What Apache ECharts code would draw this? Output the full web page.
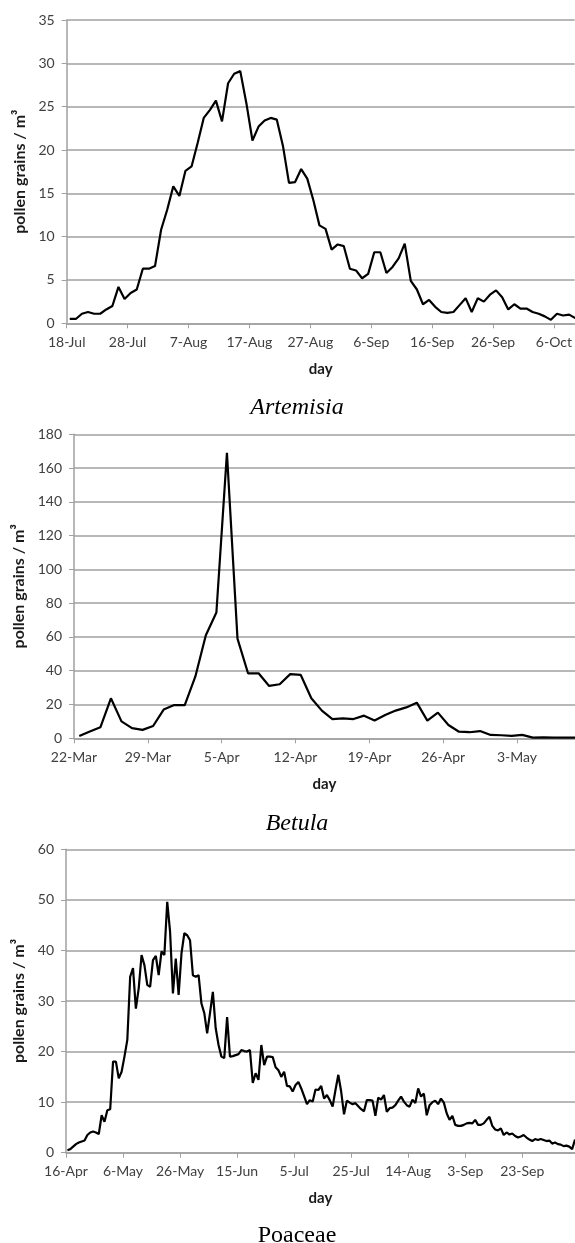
<!DOCTYPE html>
<html>
<head>
<meta charset="utf-8">
<script src="https://cdn.jsdelivr.net/npm/echarts@6/dist/echarts.min.js"></script>
<style>
  html, body { margin: 0; padding: 0; background: #ffffff; }
  #chart { width: 575px; height: 1243px; }
</style>
</head>
<body>
<div id="chart"></div>
<script>
// daily pollen counts, one value per day starting at the first tick date
const ARTEMISIA_START = [7, 18]; // 18-Jul
const ARTEMISIA_VALUES = [
  0.5, 0.5, 1.1, 1.3, 1.1, 1.1, 1.6, 2.0, 4.2, 2.8,
  3.5, 3.9, 6.3, 6.3, 6.6, 10.8, 13.1, 15.8, 14.7, 17.6,
  18.1, 20.8, 23.7, 24.6, 25.7, 23.3, 27.7, 28.8, 29.1, 25.4,
  21.1, 22.7, 23.4, 23.7, 23.5, 20.5, 16.2, 16.3, 17.8, 16.7,
  14.2, 11.3, 10.9, 8.5, 9.1, 8.9, 6.3, 6.1, 5.2, 5.7,
  8.2, 8.2, 5.8, 6.5, 7.5, 9.2, 4.9, 3.9, 2.2, 2.7,
  1.9, 1.3, 1.2, 1.3, 2.1, 2.9, 1.3, 2.9, 2.5, 3.3,
  3.8, 3.0, 1.6, 2.2, 1.7, 1.7, 1.3, 1.1, 0.8, 0.4,
  1.1, 0.9, 1.0, 0.6
];

const BETULA_START = [3, 22]; // 22-Mar
const BETULA_VALUES = [
  1.4, 4, 6.5, 23.7, 10, 6, 5, 7.3, 17, 19.7,
  19.7, 36.5, 61, 74.5, 169, 59, 38.5, 38.5, 31, 32,
  38, 37.5, 23.7, 16.4, 11.4, 11.8, 11.4, 13.4, 10.5, 13.8,
  16.4, 18.3, 21.1, 10.5, 15.2, 7.9, 3.9, 3.6, 4.3, 2.0,
  1.8, 1.4, 2.0, 0.4, 0.6, 0.4, 0.4, 0.4
];

const POACEAE_START = [4, 16]; // 16-Apr
const POACEAE_VALUES = [
  0.5, 0.7, 1.2, 1.7, 2.0, 2.2, 2.4, 3.5, 4.0, 4.2,
  4.0, 3.7, 7.4, 6.1, 8.4, 8.6, 18.0, 18.0, 14.7, 16.0,
  19.0, 22.3, 34.8, 36.5, 28.5, 32.5, 39.1, 37.1, 33.2, 32.8,
  38.1, 38.9, 35.1, 39.8, 39.1, 49.6, 43.7, 31.5, 38.4, 31.2,
  39.4, 43.4, 43.0, 42.0, 35.1, 34.8, 35.1, 29.5, 27.6, 23.6,
  27.6, 31.8, 24.6, 21.3, 19.0, 18.7, 26.8, 19.0, 19.1, 19.3,
  19.5, 20.3, 20.1, 20.0, 20.3, 13.8, 15.7, 14.4, 21.3, 17.3,
  19.0, 19.0, 18.9, 16.9, 16.3, 15.0, 16.0, 13.2, 13.1, 12.1,
  13.4, 14.0, 12.7, 11.2, 9.6, 10.4, 10.1, 12.5, 12.4, 13.2,
  10.7, 11.4, 10.4, 9.1, 12.4, 15.4, 12.1, 7.6, 10.3, 9.9,
  9.6, 9.8, 9.2, 8.6, 8.2, 10.4, 10.4, 10.3, 7.3, 10.9,
  10.5, 11.4, 8.1, 8.8, 8.9, 9.4, 10.3, 11.1, 10.1, 9.4,
  9.1, 10.5, 9.8, 12.7, 11.1, 11.7, 7.4, 9.4, 10.0, 10.3,
  9.6, 10.7, 9.9, 7.8, 6.5, 7.3, 5.5, 5.3, 5.3, 5.5,
  5.8, 5.9, 5.8, 6.5, 5.5, 5.5, 5.8, 6.5, 7.1, 5.3,
  4.6, 4.4, 4.8, 3.5, 4.0, 3.6, 3.8, 3.3, 3.0, 3.2,
  3.5, 3.0, 2.6, 2.3, 2.7, 2.5, 2.7, 2.5, 2.3, 2.4,
  1.8, 2.0, 1.7, 1.6, 1.3, 1.4, 1.2, 0.7, 2.6
];

const CAPTIONS = ["Artemisia", "Betula", "Poaceae"];
const Y_NAME = "pollen grains / m\u00b3";
const X_NAME = "day";
const MONTHS = ["Jan", "Feb", "Mar", "Apr", "May", "Jun", "Jul", "Aug", "Sep", "Oct", "Nov", "Dec"];

function dayLabel(start, offset) {
  const d = new Date(Date.UTC(2000, start[0] - 1, start[1] + Math.round(offset)));
  return d.getUTCDate() + "-" + MONTHS[d.getUTCMonth()];
}

// each daily value sits at the middle of its day
function toPoints(values) {
  return values.map((v, i) => [i + 0.5, v]);
}

const panels = [
  { start: ARTEMISIA_START, values: ARTEMISIA_VALUES, step: 10, yMax: 35, yStep: 5, nameGap: 32,
    grid: { left: 66.7, top: 20, height: 303.3 }, xMax: 83.4, caption: { top: 391, italic: true } },
  { start: BETULA_START, values: BETULA_VALUES, step: 7, yMax: 180, yStep: 20, nameGap: 39,
    grid: { left: 74, top: 434.3, height: 304 }, xMax: 47.5, caption: { top: 807, italic: true } },
  { start: POACEAE_START, values: POACEAE_VALUES, step: 20, yMax: 60, yStep: 10, nameGap: 33,
    grid: { left: 66, top: 849.3, height: 303.4 }, xMax: 178.5, caption: { top: 1219, italic: false } }
];

const gridColor = "#a0a0a0";
const labelColor = "#404040";
const labelFont = "Lato, 'Open Sans', sans-serif";

const chart = echarts.init(document.getElementById("chart"), null, { renderer: "canvas" });

chart.setOption({
  animation: false,
  backgroundColor: "#ffffff",
  grid: panels.map(p => ({
    left: p.grid.left,
    top: p.grid.top,
    height: p.grid.height,
    right: 0,
    containLabel: false
  })),
  title: panels.map((p, i) => ({
    text: CAPTIONS[i],
    left: 292,
    top: p.caption.top,
    textAlign: "center",
    textStyle: {
      fontFamily: "'Liberation Serif', 'Times New Roman', serif",
      fontStyle: p.caption.italic ? "italic" : "normal",
      fontWeight: "normal",
      fontSize: 24,
      color: "#000000"
    }
  })),
  xAxis: panels.map((p, i) => ({
    type: "value",
    gridIndex: i,
    min: 0,
    max: p.xMax,
    interval: p.step,
    name: X_NAME,
    nameLocation: "middle",
    nameGap: 38,
    nameTextStyle: { fontFamily: labelFont, fontWeight: "bold", fontSize: 15, color: "#1a1a1a" },
    axisLine: { show: true, lineStyle: { color: gridColor, width: 1.5 } },
    axisTick: { show: true, inside: false, length: 5, lineStyle: { color: gridColor } },
    axisLabel: {
      margin: 12,
      fontFamily: labelFont,
      fontSize: 14,
      color: labelColor,
      showMaxLabel: false,
      formatter: v => dayLabel(p.start, v)
    },
    splitLine: { show: false }
  })),
  yAxis: panels.map((p, i) => ({
    type: "value",
    gridIndex: i,
    min: 0,
    max: p.yMax,
    interval: p.yStep,
    name: Y_NAME,
    nameLocation: "middle",
    nameRotate: 90,
    nameGap: p.nameGap,
    nameTextStyle: { fontFamily: labelFont, fontWeight: "bold", fontSize: 16, color: "#1a1a1a" },
    axisLine: { show: true, lineStyle: { color: gridColor, width: 1.5 } },
    axisTick: { show: true, length: 5, lineStyle: { color: gridColor } },
    axisLabel: { margin: 12, fontFamily: labelFont, fontSize: 14, color: labelColor },
    splitLine: { show: true, lineStyle: { color: gridColor, width: 1.5 } }
  })),
  series: panels.map((p, i) => ({
    type: "line",
    xAxisIndex: i,
    yAxisIndex: i,
    data: toPoints(p.values),
    showSymbol: false,
    symbol: "none",
    clip: true,
    lineStyle: { color: "#000000", width: 2.2 }
  }))
});
</script>
</body>
</html>
